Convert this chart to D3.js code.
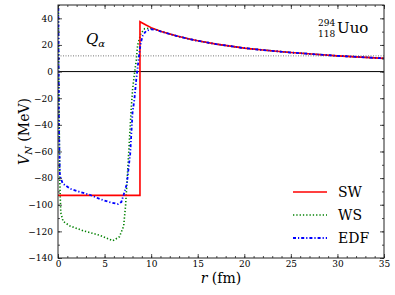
<!DOCTYPE html>
<html>
<head>
<meta charset="utf-8">
<script src="https://cdn.jsdelivr.net/npm/d3@7"></script>
<style>
  body { margin: 0; background: #fff; }
  svg text { font-family: "DejaVu Serif", "Liberation Serif", "Times New Roman", serif; fill: #000; }
</style>
</head>
<body>
<div id="chart"></div>
<script>
// radius (fm) and potential (MeV)
var rSW  = [0, 8.8, 8.8, 9, 9.5, 10];
var vSW  = [-93, -93, 37.5, 36.7, 34.8, 33.0];

var rWS  = [0.03, 0.1, 0.2, 0.3, 0.55, 1.3, 2.7, 4.5, 5.9, 6.6, 7.05, 7.25, 7.4, 7.6, 7.85, 8.0, 8.2, 8.4, 8.55, 8.9, 9.3, 9.8, 10.5];
var vWS  = [60, -20, -85, -106, -112.5, -116, -119.5, -123, -127, -124, -116, -101, -84, -60, -29, -14, -2, 8.6, 19.9, 28.6, 32.2, 32.6, 31.6];

var rEDF = [0.03, 0.1, 0.2, 0.5, 1.3, 2.4, 3.4, 4.5, 5.5, 6.45, 6.8, 7.05, 7.4, 7.6, 7.75, 8.0, 8.2, 8.4, 8.6, 8.75, 8.9, 9.1, 9.45, 10, 10.5];
var vEDF = [60, -40, -78, -84, -88, -90.5, -92.5, -95.7, -98, -99.5, -98, -92.5, -84, -71, -62, -31, -21, -6, 6, 15, 22, 27, 30.5, 31.8, 31.4];

// common Coulomb tail (all three curves coincide here)
var rTail = [11, 12, 13, 14, 15, 17, 20, 22, 25, 28, 30, 33, 35];
var vTail = [30.2, 28.2, 26.3, 24.6, 23.1, 20.6, 17.6, 16.2, 14.3, 12.8, 11.8, 10.7, 9.9];

var qAlpha = 11.8;

var seriesNames  = ["SW", "WS", "EDF"];
var seriesColors = ["#ff0000", "#008000", "#0000ff"];

var xTicks = [0, 5, 10, 15, 20, 25, 30, 35];
var yTicks = [-140, -120, -100, -80, -60, -40, -20, 0, 20, 40];

var width = 395, height = 295;
var padding = {top: 5, bottom: 37, left: 58, right: 11};
var serif = "'DejaVu Serif', 'Liberation Serif', 'Times New Roman', serif";

function zipSeries(rs, vs, withTail) {
    var pts = rs.map(function(r, i){ return {r: r, v: vs[i]}; });
    if (withTail) {
        pts = pts.concat(rTail.map(function(r, i){ return {r: r, v: vTail[i]}; }));
    }
    return pts;
}

var series = [
    {name: "SW",  data: zipSeries(rSW, vSW, true),  dash: null,      width: 1.6},
    {name: "WS",  data: zipSeries(rWS, vWS, true),  dash: "1.3,2",   width: 1.6},
    {name: "EDF", data: zipSeries(rEDF, vEDF, true), dash: "3,2,1.2,2", width: 1.8}
];

var x_scale = d3.scaleLinear()
    .domain([0, 35])
    .range([padding.left, width - padding.right]);
var y_scale = d3.scaleLinear()
    .domain([-140, 50])
    .range([height - padding.bottom, padding.top]);

var svg = d3.select("#chart")
    .append("svg")
    .attr("width", width)
    .attr("height", height)
    .style("font-family", serif);

svg.append("clipPath")
    .attr("id", "plot-clip")
  .append("rect")
    .attr("x", padding.left)
    .attr("y", padding.top)
    .attr("width", width - padding.left - padding.right)
    .attr("height", height - padding.top - padding.bottom);

var plot = svg.append("g").attr("clip-path", "url(#plot-clip)");

// zero line and Q_alpha line
plot.append("line")
    .attr("x1", x_scale(0)).attr("x2", x_scale(35))
    .attr("y1", y_scale(0)).attr("y2", y_scale(0))
    .attr("stroke", "#000").attr("stroke-width", 1);

plot.append("line")
    .attr("x1", x_scale(0)).attr("x2", x_scale(35))
    .attr("y1", y_scale(qAlpha)).attr("y2", y_scale(qAlpha))
    .attr("stroke", "#777").attr("stroke-width", 1)
    .attr("stroke-dasharray", "1,1.5");

var line = d3.line()
    .x(function(d){ return x_scale(d.r); })
    .y(function(d){ return y_scale(d.v); });

var drawOrder = [1, 0, 2];
drawOrder.forEach(function(i){
    var s = series[i];
    plot.append("path")
        .datum(s.data)
        .attr("fill", "none")
        .attr("stroke", seriesColors[i])
        .attr("stroke-width", s.width)
        .attr("stroke-dasharray", s.dash)
        .attr("d", line);
});

// axes, ticks pointing inward on all four sides
function styleAxis(g) {
    g.attr("font-family", null);
    g.select(".domain").remove();
    g.selectAll(".tick line").attr("stroke", "#222").attr("stroke-width", 0.8);
    g.selectAll("text").attr("font-size", "9px").style("font-family", serif);
}

var xMinor = d3.range(0, 36, 1);
var yMinor = d3.range(-140, 51, 10);

var bottomY = height - padding.bottom, topY = padding.top;
var leftX = padding.left, rightX = width - padding.right;

svg.append("g").attr("transform", "translate(0," + bottomY + ")")
    .call(d3.axisBottom(x_scale).tickValues(xMinor).tickSize(-2).tickFormat(""))
    .call(styleAxis);
svg.append("g").attr("transform", "translate(0," + bottomY + ")")
    .call(d3.axisBottom(x_scale).tickValues(xTicks).tickSize(-4).tickPadding(3).tickFormat(d3.format("d")))
    .call(styleAxis);
svg.append("g").attr("transform", "translate(0," + topY + ")")
    .call(d3.axisTop(x_scale).tickValues(xMinor).tickSize(-2).tickFormat(""))
    .call(styleAxis);
svg.append("g").attr("transform", "translate(0," + topY + ")")
    .call(d3.axisTop(x_scale).tickValues(xTicks).tickSize(-4).tickFormat(""))
    .call(styleAxis);

svg.append("g").attr("transform", "translate(" + leftX + ",0)")
    .call(d3.axisLeft(y_scale).tickValues(yMinor).tickSize(-2).tickFormat(""))
    .call(styleAxis);
svg.append("g").attr("transform", "translate(" + leftX + ",0)")
    .call(d3.axisLeft(y_scale).tickValues(yTicks).tickSize(-4).tickPadding(5).tickFormat(d3.format("d")))
    .call(styleAxis);
svg.append("g").attr("transform", "translate(" + rightX + ",0)")
    .call(d3.axisRight(y_scale).tickValues(yMinor).tickSize(-2).tickFormat(""))
    .call(styleAxis);
svg.append("g").attr("transform", "translate(" + rightX + ",0)")
    .call(d3.axisRight(y_scale).tickValues(yTicks).tickSize(-4).tickFormat(""))
    .call(styleAxis);

svg.append("rect")
    .attr("x", leftX).attr("y", topY)
    .attr("width", rightX - leftX).attr("height", bottomY - topY)
    .attr("fill", "none").attr("stroke", "#222").attr("stroke-width", 1);

// axis labels
var xl = svg.append("text")
    .attr("x", (leftX + rightX) / 2)
    .attr("y", 283)
    .attr("text-anchor", "middle")
    .attr("font-size", "14px");
xl.append("tspan").attr("font-style", "italic").text("r");
xl.append("tspan").text(" (fm)");

var yl = svg.append("text")
    .attr("transform", "translate(29," + ((topY + bottomY) / 2) + ") rotate(-90)")
    .attr("text-anchor", "middle")
    .attr("font-size", "14px");
yl.append("tspan").attr("font-style", "italic").text("V");
yl.append("tspan").attr("font-style", "italic").attr("font-size", "10px").attr("dy", 3).text("N");
yl.append("tspan").attr("dy", -3).text(" (MeV)");

// annotations
var qa = svg.append("text")
    .attr("x", 86)
    .attr("y", 44)
    .attr("font-size", "15px");
qa.append("tspan").attr("font-style", "italic").text("Q");
qa.append("tspan").attr("font-style", "italic").attr("font-size", "10px").attr("dy", 3).text("α");

svg.append("text").attr("x", 318).attr("y", 26).attr("font-size", "9px").text("294");
svg.append("text").attr("x", 318).attr("y", 37).attr("font-size", "9px").text("118");
svg.append("text").attr("x", 337).attr("y", 33).attr("font-size", "15px").text("Uuo");

// legend
var legendY = [192, 215, 238];
series.forEach(function(s, i){
    svg.append("line")
        .attr("x1", 293).attr("x2", 327)
        .attr("y1", legendY[i]).attr("y2", legendY[i])
        .attr("stroke", seriesColors[i])
        .attr("stroke-width", s.width)
        .attr("stroke-dasharray", s.dash);
    svg.append("text")
        .attr("x", 338)
        .attr("y", legendY[i] + 5)
        .attr("font-size", "14px")
        .text(seriesNames[i]);
});
</script>
</body>
</html>
